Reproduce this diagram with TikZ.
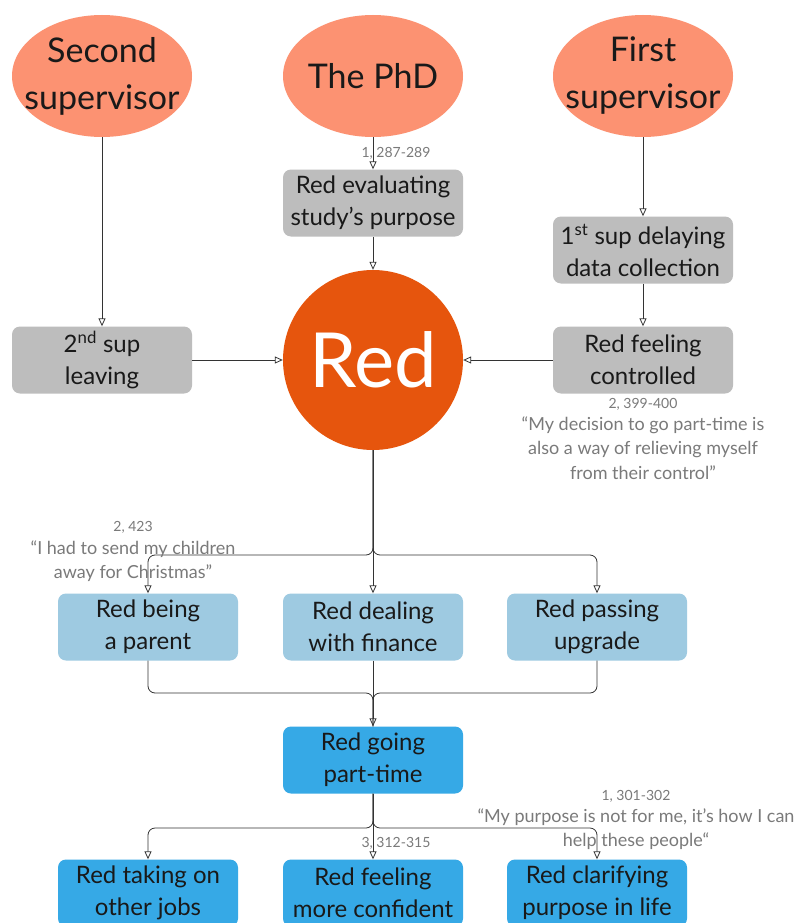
\documentclass[tikz,border=0pt]{standalone}
\usepackage{fontspec}
\setmainfont{Lato}
\usetikzlibrary{arrows.meta,shapes.geometric}
\definecolor{salmon}{HTML}{FC9272}
\definecolor{redcore}{HTML}{E6550D}
\definecolor{greybox}{HTML}{BDBDBD}
\definecolor{paleblue}{HTML}{9ECAE1}
\definecolor{skyblue}{HTML}{36A9E6}
\definecolor{linegrey}{HTML}{333333}
\definecolor{quotegrey}{HTML}{7A7A7A}
\begin{document}
\begin{tikzpicture}[x=1pt,y=-1pt,
  actor/.style={ellipse,fill=salmon,minimum width=180pt,minimum height=122pt,inner sep=0pt},
  actortext/.style={align=center,font=\fontsize{34}{47}\selectfont,inner sep=0pt,text=black!90},
  core/.style={circle,fill=redcore,minimum size=180pt,text=white,
    font=\fontsize{76}{80}\selectfont,inner sep=0pt},
  card/.style={rectangle,rounded corners=8pt,minimum width=180pt,minimum height=67pt,
    align=center,font=\fontsize{24}{32}\selectfont,inner sep=0pt,text=black!90},
  greycard/.style={card,fill=greybox},
  palecard/.style={card,fill=paleblue},
  bluecard/.style={card,fill=skyblue},
  arr/.style={draw=linegrey,line width=0.8pt,-{Triangle[open,length=8pt,width=7pt]}},
  link/.style={draw=linegrey,line width=0.8pt},
  ref/.style={text=quotegrey,font=\fontsize{14}{16}\selectfont},
  quote/.style={text=quotegrey,align=center,font=\fontsize{18}{24.5}\selectfont}]
\clip (0,0) rectangle (800,923);
\fill[white] (0,0) rectangle (800,923);

% outer influences
\node[actor] (second) at (102,76) {};
\node[actortext] at (second) {Second\\supervisor};
\node[actor] (phd) at (373,76) {};
\node[actortext] at (phd) {The PhD};
\node[actor] (first) at (643,76) {};
\node[actortext] at (first) {First\\supervisor};

% mediating states
\node[greycard] (evaluate) at (373,203) {Red evaluating\\study’s purpose};
\node[greycard] (delay) at (643,250) {1\textsuperscript{st} sup delaying\\data collection};
\node[greycard] (leave) at (102,360) {2\textsuperscript{nd} sup\\leaving};
\node[greycard] (control) at (643,360) {Red feeling\\controlled};

% the participant
\node[core] (red) at (373,360) {Red};

% pressures
\node[palecard] (parent) at (148,627) {Red being\\a parent};
\node[palecard] (finance) at (373,627) {Red dealing\\with finance};
\node[palecard] (upgrade) at (597,627) {Red passing\\upgrade};

% decision
\node[bluecard] (parttime) at (373,760) {Red going\\part-time};

% outcomes
\node[bluecard] (jobs) at (148,893) {Red taking on\\other jobs};
\node[bluecard] (confident) at (373,893) {Red feeling\\more confident};
\node[bluecard] (purpose) at (597,893) {Red clarifying\\purpose in life};

% connectors into Red
\draw[arr] (phd) -- (evaluate);
\draw[arr] (evaluate) -- (red);
\draw[arr] (first) -- (delay);
\draw[arr] (delay) -- (control);
\draw[arr] (second) -- (leave);
\draw[arr] (leave) -- (red);
\draw[arr] (control) -- (red);

% fan out to the pressures
\draw[arr] (red) -- (finance);
\draw[arr,rounded corners=7pt] (red.south) |- (260,555) -| (parent.north);
\draw[arr,rounded corners=7pt] (red.south) |- (485,555) -| (upgrade.north);

% merge into the decision
\draw[arr] (finance) -- (parttime);
\draw[link,rounded corners=7pt] (parent.south) |- (260,693) -| (parttime.north);
\draw[link,rounded corners=7pt] (upgrade.south) |- (485,693) -| (parttime.north);

% fan out to the outcomes
\draw[arr] (parttime) -- (confident);
\draw[arr,rounded corners=7pt] (parttime.south) |- (260,828) -| (jobs.north);
\draw[arr,rounded corners=7pt] (parttime.south) |- (485,828) -| (purpose.north);

% references and quotations
\node[ref] (r1) at (396,153) {1, 287-289};
\node[ref] (r2) at (643,404) {2, 399-400};
\node[quote,anchor=north] (q2) at (643,413) {“My decision to go part-time is\\also a way of relieving myself\\from their control”};
\node[ref] (r3) at (133,527) {2, 423};
\node[quote,anchor=north] (q3) at (133,537) {“I had to send my children\\away for Christmas”};
\node[ref] (r4) at (636,796) {1, 301-302};
\node[quote,anchor=north] (q4) at (636,805) {“My purpose is not for me, it’s how I can\\help these people“};
\node[ref] (r5) at (396,843) {3, 312-315};
\end{tikzpicture}
\end{document}
